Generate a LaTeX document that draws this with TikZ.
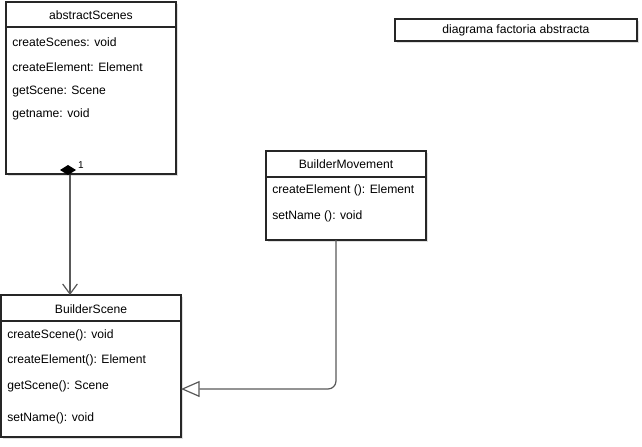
\documentclass[tikz,border=0pt]{standalone}
\usepackage{fontspec}
\setmainfont{Liberation Sans}
\usetikzlibrary{arrows.meta,shadows}
\begin{document}
\begin{tikzpicture}[x=0.75pt,y=-0.75pt,
  umlbox/.style={draw=black!85,line width=0.9pt,fill=white,drop shadow={shadow xshift=1.2pt,shadow yshift=-1.2pt,opacity=0.25}},
  member/.style={anchor=west,inner sep=0pt,font=\fontsize{9.1pt}{11pt}\selectfont},
  title/.style={anchor=center,inner sep=0pt,font=\fontsize{9.1pt}{11pt}\selectfont},
  conn/.style={draw=black!65,line width=0.9pt}]
\useasboundingbox (0,0) rectangle (642,446);
% abstractScenes
\path[umlbox] (6,2) rectangle (176,174);
\draw[line width=0.9pt,black!85] (6,27) -- (176,27);
\node[title] (asT) at (91,15) {abstractScenes};
\node[member] (as1) at (12,42) {createScenes: void};
\node[member] (as2) at (12,67) {createElement: Element};
\node[member] (as3) at (12,92) {getScene: Scene};
\node[member] (as4) at (12,114) {getname: void};
% composition diamond
\fill[black] (60,170) -- (68,165) -- (76,170) -- (68,175) -- cycle;
\coordinate (asB) at (70,175);
% BuilderScene
\path[umlbox] (1,295) rectangle (181,437);
\draw[line width=0.9pt,black!85] (1,321) -- (181,321);
\node[title] (bsT) at (91,309) {BuilderScene};
\node[member] (bs1) at (7,335) {createScene(): void};
\node[member] (bs2) at (7,360) {createElement(): Element};
\node[member] (bs3) at (7,386) {getScene(): Scene};
\node[member] (bs4) at (7,418) {setName(): void};
\coordinate (bsT0) at (70,295);
\coordinate (bsR) at (181,389);
% BuilderMovement
\path[umlbox] (266,151) rectangle (426,240);
\draw[line width=0.9pt,black!85] (266,177) -- (426,177);
\node[title] (bmT) at (346,164) {BuilderMovement};
\node[member] (bm1) at (272,190) {createElement (): Element};
\node[member] (bm2) at (272,216) {setName (): void};
\coordinate (bmB) at (336,240);
% title box
\path[umlbox] (395,19) rectangle (637,41);
\node[title] (tt) at (516,30) {diagrama factoria abstracta};
% composition
\draw[conn,-{Straight Barb[length=7.5pt,width=11pt]}] (asB) -- (bsT0);
\node[member,font=\fontsize{7.5pt}{8pt}\selectfont,fill=white,inner sep=0.6pt] (one) at (77,165) {1};
% generalization
\draw[conn,-{Triangle[open,length=14pt,width=12pt,fill=white]},rounded corners=6pt] (bmB) |- (bsR);
\end{tikzpicture}
\end{document}
